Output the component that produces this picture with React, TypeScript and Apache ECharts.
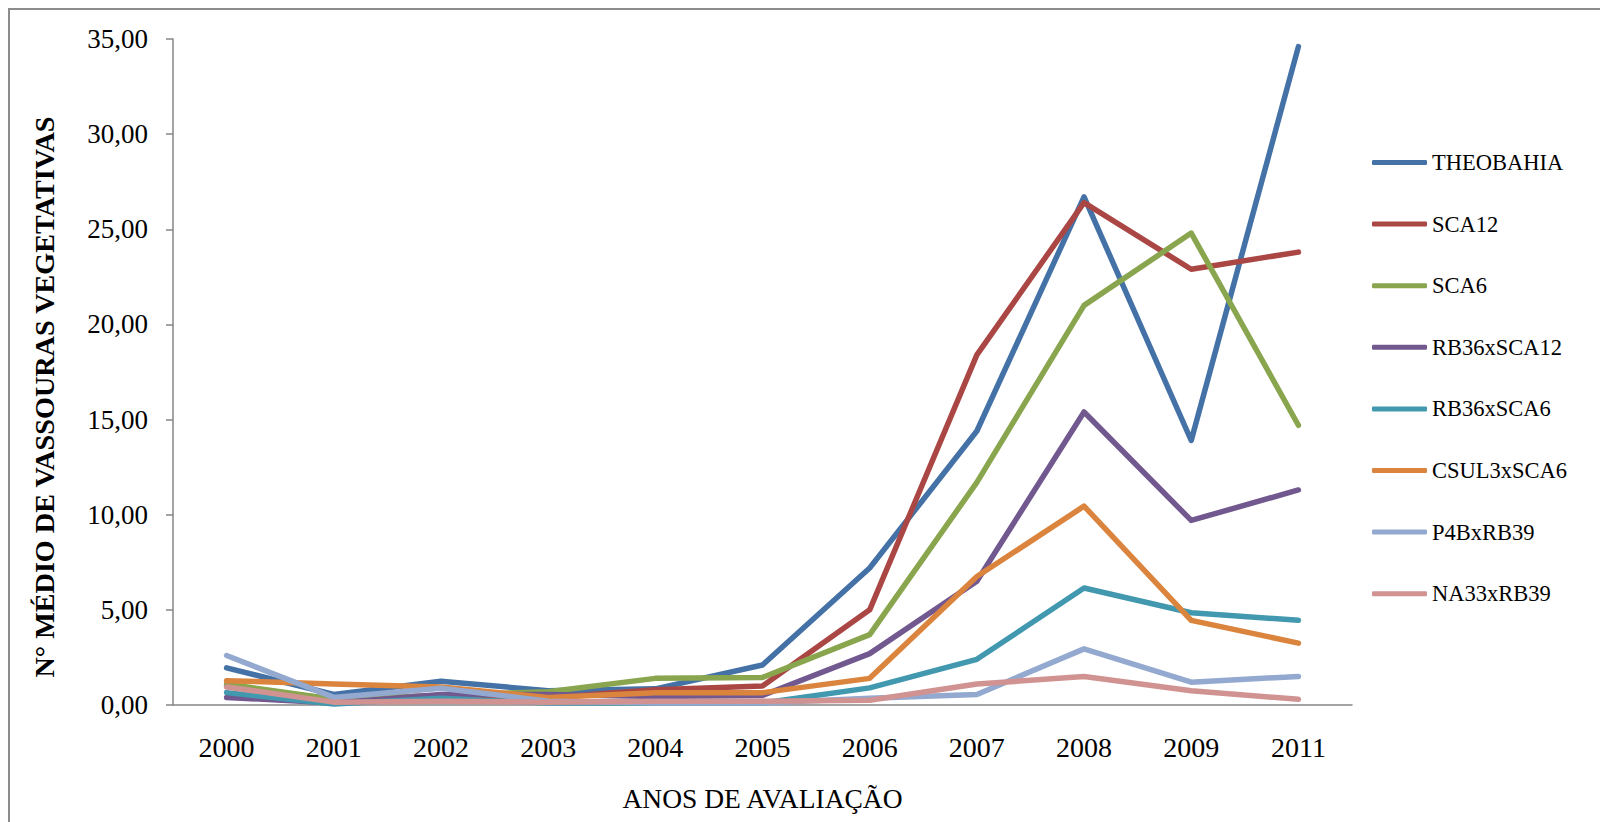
import React, { useEffect, useRef } from "react";
import * as echarts from "echarts";

const years = ["2000", "2001", "2002", "2003", "2004", "2005", "2006", "2007", "2008", "2009", "2011"];

const theobahia = [1.95, 0.55, 1.25, 0.75, 0.85, 2.1, 7.2, 14.4, 26.7, 13.9, 34.6];
const sca12 = [1.0, 0.3, 0.5, 0.4, 0.8, 1.0, 5.0, 18.4, 26.4, 22.9, 23.8];
const sca6 = [1.1, 0.3, 0.5, 0.7, 1.4, 1.45, 3.7, 11.7, 21.0, 24.8, 14.7];
const rb36xSca12 = [0.4, 0.1, 0.55, 0.55, 0.45, 0.5, 2.7, 6.5, 15.4, 9.7, 11.3];
const rb36xSca6 = [0.65, 0.05, 0.35, 0.1, 0.1, 0.1, 0.9, 2.4, 6.15, 4.85, 4.45];
const csul3xSca6 = [1.28, 1.1, 0.95, 0.4, 0.65, 0.65, 1.4, 6.75, 10.45, 4.45, 3.25];
const p4bxRb39 = [2.6, 0.4, 0.88, 0.2, 0.1, 0.1, 0.35, 0.55, 2.95, 1.2, 1.5];
const na33xRb39 = [0.95, 0.15, 0.2, 0.15, 0.2, 0.2, 0.25, 1.1, 1.5, 0.75, 0.3];

const seriesNames = ["THEOBAHIA", "SCA12", "SCA6", "RB36xSCA12", "RB36xSCA6", "CSUL3xSCA6", "P4BxRB39", "NA33xRB39"];
const seriesData = [theobahia, sca12, sca6, rb36xSca12, rb36xSca6, csul3xSca6, p4bxRb39, na33xRb39];
const colors = ["#4472A7", "#AA4643", "#89A54E", "#71588F", "#4198AF", "#DB843D", "#93A9CF", "#D19392"];

const yTitle = "N° MÉDIO DE VASSOURAS VEGETATIVAS";
const xTitle = "ANOS DE AVALIAÇÃO";

const FONT = "'Liberation Serif', 'Times New Roman', serif";

export default function App() {
  const ref = useRef<HTMLDivElement>(null);

  useEffect(() => {
    if (!ref.current) return;
    const chart = echarts.init(ref.current, null, { renderer: "svg" });
    chart.setOption({
      animation: false,
      backgroundColor: "#ffffff",
      textStyle: { fontFamily: FONT },
      grid: { left: 173, top: 39, right: 248, bottom: 117, containLabel: false },
      legend: {
        orient: "vertical",
        left: 1367,
        top: 146,
        itemWidth: 55,
        itemHeight: 5,
        itemGap: 38.6,
        icon: "roundRect",
        data: seriesNames,
        textStyle: { fontFamily: FONT, fontSize: 22.5, color: "#000", lineHeight: 22 },
      },
      xAxis: {
        type: "category",
        data: years,
        boundaryGap: true,
        name: xTitle,
        nameLocation: "middle",
        nameGap: 79,
        nameTextStyle: { fontFamily: FONT, fontSize: 27.5, color: "#000" },
        axisLine: { lineStyle: { color: "#868686", width: 1.5 } },
        axisTick: { length: 8, lineStyle: { color: "#868686", width: 1.5 } },
        axisLabel: { fontFamily: FONT, fontSize: 28, color: "#000", margin: 28, interval: 0 },
        splitLine: { show: false },
      },
      yAxis: {
        type: "value",
        min: 0,
        max: 35,
        interval: 5,
        axisLine: { show: true, lineStyle: { color: "#868686", width: 1.5 } },
        axisTick: { show: true, length: 7, lineStyle: { color: "#868686", width: 1.5 } },
        axisLabel: {
          fontFamily: FONT,
          fontSize: 27,
          color: "#000",
          margin: 25,
          formatter: (v: number) => v.toFixed(2).replace(".", ","),
        },
        splitLine: { show: false },
      },
      graphic: [
        {
          type: "rect",
          shape: { x: 9, y: 9, width: 1800, height: 1000 },
          style: { fill: "none", stroke: "#8c8c8c", lineWidth: 2 },
          silent: true,
        },
        {
          type: "text",
          x: 44,
          y: 397,
          rotation: Math.PI / 2,
          style: {
            text: yTitle,
            fontFamily: FONT,
            fontSize: 28.2,
            fontWeight: "bold",
            fill: "#000",
            align: "center",
            verticalAlign: "middle",
          },
        },
      ],
      series: seriesNames.map((name, i) => ({
        name,
        type: "line",
        data: seriesData[i],
        symbol: "none",
        showSymbol: false,
        color: colors[i],
        itemStyle: { color: colors[i] },
        lineStyle: { width: 5.5, color: colors[i], cap: "round", join: "round" },
      })),
    });
    return () => chart.dispose();
  }, []);

  return <div ref={ref} style={{ position: "fixed", left: 0, top: 0, width: 1600, height: 822 }} />;
}
